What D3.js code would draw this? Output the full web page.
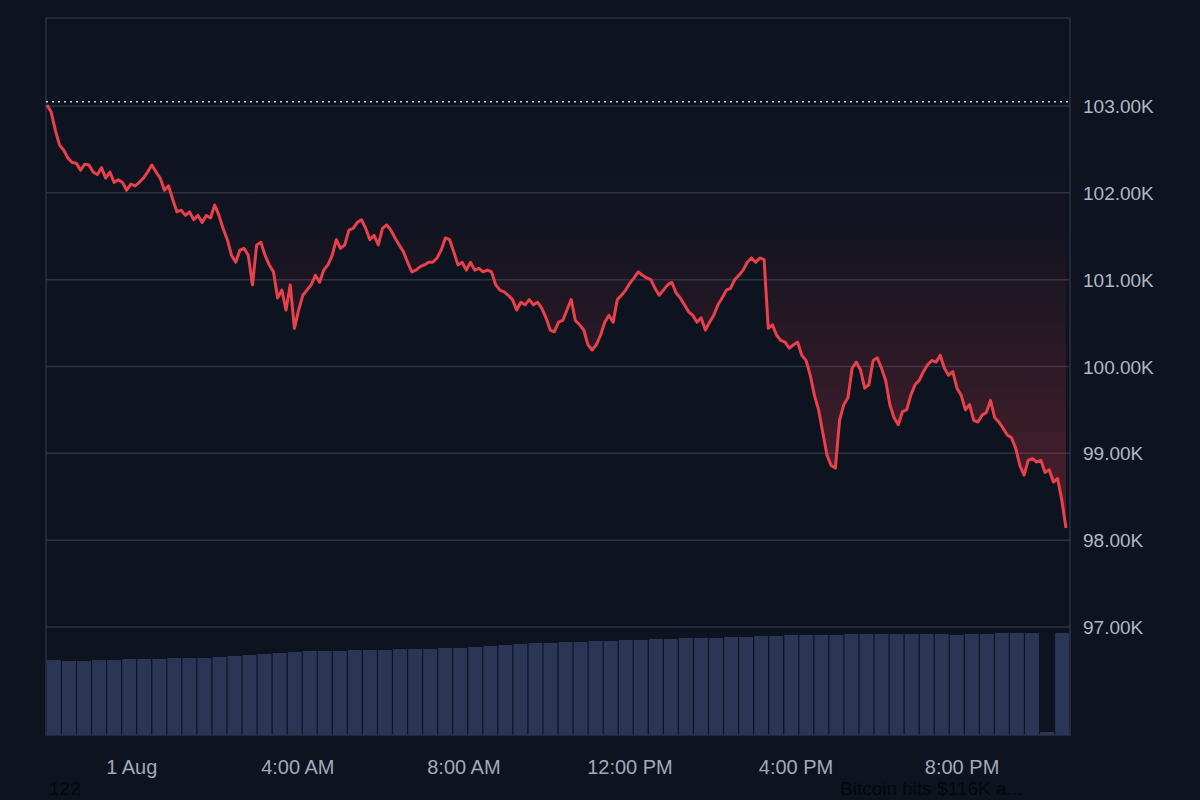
<!DOCTYPE html>
<html>
<head>
<meta charset="utf-8">
<script src="https://cdn.jsdelivr.net/npm/d3@7"></script>
<style>
  html, body { margin: 0; background: #0e1320; }
  svg { display: block; font-family: "Liberation Sans", Arial, sans-serif; }
</style>
</head>
<body>
<svg id="chart" width="1200" height="800"></svg>
<script>
// price in thousands USD, roughly every 5-6 minutes
const prices = [103.01,102.93,102.72,102.55,102.49,102.40,102.35,102.34,102.26,102.33,102.32,102.24,102.21,102.29,102.17,102.24,102.12,102.15,102.12,102.03,
  102.10,102.08,102.12,102.17,102.24,102.32,102.24,102.17,102.03,102.08,101.92,101.78,101.80,101.74,101.78,101.69,101.74,101.66,101.74,101.71,
  101.86,101.74,101.59,101.46,101.28,101.20,101.34,101.36,101.28,100.94,101.40,101.43,101.28,101.17,101.09,100.79,100.88,100.65,100.94,100.44,
  100.65,100.82,100.88,100.94,101.05,100.97,101.11,101.17,101.28,101.46,101.36,101.40,101.57,101.59,101.66,101.69,101.59,101.46,101.51,101.40,
  101.59,101.63,101.57,101.48,101.40,101.32,101.20,101.09,101.11,101.15,101.17,101.20,101.20,101.25,101.34,101.48,101.46,101.32,101.17,101.20,
  101.11,101.20,101.11,101.13,101.09,101.11,101.09,100.94,100.88,100.86,100.82,100.77,100.65,100.74,100.71,100.77,100.71,100.74,100.67,100.56,
  100.42,100.40,100.51,100.53,100.65,100.77,100.53,100.48,100.42,100.25,100.19,100.25,100.36,100.51,100.59,100.51,100.77,100.82,100.88,100.96,
  101.02,101.09,101.05,101.02,101.00,100.90,100.82,100.88,100.94,100.97,100.85,100.79,100.71,100.63,100.59,100.51,100.56,100.42,100.51,100.59,
  100.71,100.79,100.88,100.90,101.00,101.05,101.11,101.20,101.25,101.20,101.25,101.23,100.44,100.48,100.36,100.30,100.28,100.21,100.25,100.28,
  100.13,100.07,99.90,99.67,99.50,99.24,98.98,98.86,98.83,99.38,99.56,99.64,99.98,100.05,99.96,99.75,99.79,100.07,100.10,99.98,
  99.84,99.56,99.41,99.33,99.48,99.50,99.67,99.79,99.84,99.94,100.02,100.07,100.05,100.13,99.98,99.90,99.94,99.75,99.67,99.50,
  99.56,99.38,99.36,99.44,99.47,99.61,99.41,99.36,99.29,99.21,99.18,99.06,98.86,98.75,98.92,98.94,98.90,98.92,98.78,98.81,
  98.67,98.71,98.46,98.14];

// traded volume (relative units) in equal time buckets across the day
const volumes = [75,74,74,75,75,76,76,76,77,77,77,78,79,80,81,82,83,84,84,84,
  85,85,85,86,86,86,87,87,88,89,90,91,92,92,93,93,94,94,95,95,
  96,96,97,97,97,98,98,99,99,100,100,100,100,101,101,101,101,101,101,101,
  100,101,101,102,102,102,3,102];

const startPrice = 103.05;
const yTicks = [97, 98, 99, 100, 101, 102, 103];
const timeStart = new Date(2025, 6, 31, 21, 56);
const timeEnd = new Date(2025, 7, 1, 22, 36);
const xTicks = [new Date(2025, 7, 1, 0), new Date(2025, 7, 1, 4), new Date(2025, 7, 1, 8),
  new Date(2025, 7, 1, 12), new Date(2025, 7, 1, 16), new Date(2025, 7, 1, 20)];
const xTickLabels = ['1 Aug', '4:00 AM', '8:00 AM', '12:00 PM', '4:00 PM', '8:00 PM'];

const svg = d3.select('#chart');
const m = { left: 46, right: 1070, top: 18, bottom: 735 };

const x = d3.scaleTime().domain([timeStart, timeEnd]).range([m.left, m.right]);
const xi = d3.scaleLinear().domain([0, prices.length - 1]).range([m.left + 1, m.right - 4]);
const y = d3.scaleLinear().domain([97, 103]).range([627, 106]);
const vb = d3.scaleBand().domain(d3.range(volumes.length)).range([m.left + 1, m.right - 1]).paddingInner(0.08);
const vy = d3.scaleLinear().domain([0, 102]).range([m.bottom, 633]);

// frame
svg.append('rect').attr('x', m.left).attr('y', m.top).attr('width', m.right - m.left).attr('height', m.bottom - m.top)
  .attr('fill', '#0e1320').attr('stroke', '#3a4050').attr('stroke-width', 1);

// grid
svg.append('g').selectAll('line').data(yTicks).join('line')
  .attr('x1', m.left).attr('x2', m.right).attr('y1', d => y(d)).attr('y2', d => y(d))
  .attr('stroke', '#2c3242').attr('stroke-width', 1.5);

// volume
svg.append('g').selectAll('rect').data(volumes).join('rect')
  .attr('x', (d, i) => vb(i)).attr('width', vb.bandwidth())
  .attr('y', d => vy(d)).attr('height', d => m.bottom - vy(d))
  .attr('fill', '#2b3657');

// gradient area between start price and line
const defs = svg.append('defs');
const grad = defs.append('linearGradient').attr('id', 'redfade')
  .attr('gradientUnits', 'userSpaceOnUse').attr('x1', 0).attr('x2', 0).attr('y1', y(startPrice)).attr('y2', y(98.3));
grad.append('stop').attr('offset', 0).attr('stop-color', '#e8414b').attr('stop-opacity', 0);
grad.append('stop').attr('offset', 0.3).attr('stop-color', '#e8414b').attr('stop-opacity', 0.02);
grad.append('stop').attr('offset', 1).attr('stop-color', '#e8414b').attr('stop-opacity', 0.28);

svg.append('path').datum(prices)
  .attr('d', d3.area().x((d, i) => xi(i)).y0(y(startPrice)).y1(d => y(d)))
  .attr('fill', 'url(#redfade)');

// start price dotted line
svg.append('line').attr('x1', m.left).attr('x2', m.right).attr('y1', y(startPrice)).attr('y2', y(startPrice))
  .attr('stroke', '#c8ccd6').attr('stroke-width', 1.5).attr('stroke-dasharray', '2,4');

// price line
svg.append('path').datum(prices)
  .attr('d', d3.line().x((d, i) => xi(i)).y(d => y(d)))
  .attr('fill', 'none').attr('stroke', '#e8414b').attr('stroke-width', 3).attr('stroke-linejoin', 'round');

// y axis labels
svg.append('g').selectAll('text').data(yTicks).join('text')
  .attr('x', 1083).attr('y', d => y(d) + 7)
  .attr('fill', '#b2b8c6').attr('font-size', 19)
  .text(d => d3.format('.2f')(d) + 'K');

// x axis labels
svg.append('g').selectAll('text').data(xTicks).join('text')
  .attr('x', d => x(d)).attr('y', 774).attr('text-anchor', 'middle')
  .attr('fill', '#a3a9b8').attr('font-size', 20)
  .text((d, i) => xTickLabels[i]);

// faint overlapping texts at the bottom
svg.append('text').attr('x', 49).attr('y', 795).attr('fill', '#05070c').attr('font-size', 19).text('122');
svg.append('text').attr('x', 840).attr('y', 795).attr('fill', '#05070c').attr('font-size', 19).text('Bitcoin hits $116K a...');
</script>
</body>
</html>
